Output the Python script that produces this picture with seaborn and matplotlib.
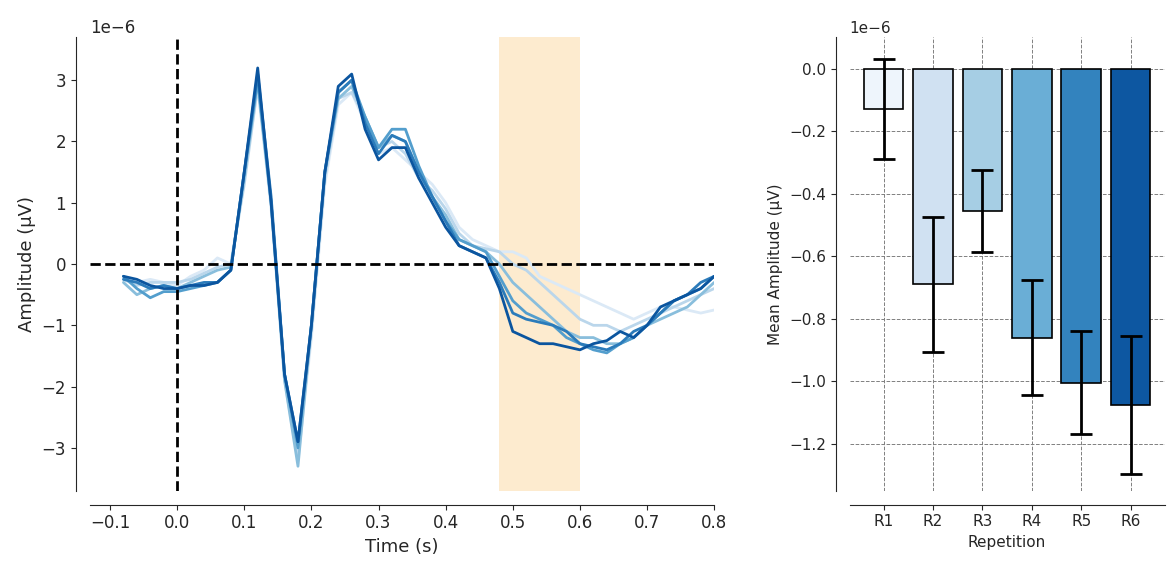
import numpy as np
import pandas as pd
import seaborn as sns
import matplotlib
matplotlib.use('Agg')
from matplotlib import pyplot as plt

times = [-0.08, -0.06, -0.04, -0.02, 0.0, 0.02, 0.04, 0.06, 0.08, 0.10, 0.12, 0.14, 0.16, 0.18,
         0.20, 0.22, 0.24, 0.26, 0.28, 0.30, 0.32, 0.34, 0.36, 0.38, 0.40, 0.42, 0.44, 0.46,
         0.48, 0.50, 0.52, 0.54, 0.56, 0.58, 0.60, 0.62, 0.64, 0.66, 0.68, 0.70, 0.72, 0.74,
         0.76, 0.78, 0.80]
# amplitudes in microvolts, one list per repetition
r1 = [-0.2, -0.3, -0.25, -0.3, -0.35, -0.2, -0.1, 0.1, 0.0, 1.4, 2.9, 0.9, -1.9, -3.2, -1.2, 1.3, 2.6, 2.8,
      2.3, 1.8, 1.9, 1.7, 1.5, 1.3, 1.0, 0.6, 0.4, 0.3, 0.2, 0.2, 0.1, -0.2, -0.3, -0.4, -0.5, -0.6,
      -0.7, -0.8, -0.9, -0.8, -0.7, -0.7, -0.75, -0.8, -0.75]
r2 = [-0.25, -0.35, -0.3, -0.3, -0.3, -0.25, -0.15, -0.05, 0.0, 1.3, 2.9, 1.0, -1.8, -3.1, -1.1, 1.4, 2.7, 2.8,
      2.4, 1.9, 2.0, 1.8, 1.4, 1.2, 0.9, 0.5, 0.3, 0.25, 0.2, 0.0, -0.1, -0.3, -0.5, -0.7, -0.9, -1.0,
      -1.0, -1.1, -1.0, -0.9, -0.8, -0.7, -0.6, -0.5, -0.4]
r3 = [-0.3, -0.5, -0.4, -0.35, -0.4, -0.3, -0.2, -0.1, -0.05, 1.4, 3.0, 1.0, -1.9, -3.3, -1.0, 1.5, 2.7, 2.9,
      2.4, 1.9, 2.1, 2.0, 1.5, 1.1, 0.8, 0.4, 0.3, 0.2, 0.0, -0.3, -0.5, -0.7, -0.9, -1.1, -1.2, -1.2,
      -1.3, -1.3, -1.2, -1.0, -0.9, -0.8, -0.7, -0.5, -0.3]
r4 = [-0.2, -0.4, -0.55, -0.45, -0.45, -0.4, -0.35, -0.3, -0.1, 1.5, 3.0, 1.0, -1.8, -3.0, -1.0, 1.5, 2.8, 3.0,
      2.4, 1.9, 2.2, 2.2, 1.6, 1.1, 0.7, 0.4, 0.3, 0.2, -0.2, -0.6, -0.8, -0.9, -1.0, -1.2, -1.3, -1.4,
      -1.45, -1.3, -1.2, -1.0, -0.8, -0.6, -0.5, -0.4, -0.2]
r5 = [-0.25, -0.3, -0.4, -0.35, -0.4, -0.35, -0.3, -0.3, -0.1, 1.5, 3.1, 1.1, -1.8, -2.9, -1.0, 1.5, 2.8, 3.0,
      2.3, 1.8, 2.1, 2.0, 1.5, 1.1, 0.7, 0.3, 0.2, 0.1, -0.3, -0.8, -0.9, -0.95, -1.0, -1.1, -1.3, -1.35,
      -1.4, -1.3, -1.1, -1.0, -0.8, -0.6, -0.5, -0.3, -0.2]
r6 = [-0.2, -0.25, -0.35, -0.4, -0.4, -0.35, -0.35, -0.3, -0.1, 1.5, 3.2, 1.0, -1.8, -2.9, -1.0, 1.5, 2.9, 3.1,
      2.2, 1.7, 1.9, 1.9, 1.4, 1.0, 0.6, 0.3, 0.2, 0.1, -0.4, -1.1, -1.2, -1.3, -1.3, -1.35, -1.4, -1.3,
      -1.25, -1.1, -1.2, -1.0, -0.7, -0.6, -0.5, -0.4, -0.2]

reps = ['R1', 'R2', 'R3', 'R4', 'R5', 'R6']
mean_amp = [-0.13, -0.69, -0.455, -0.86, -1.005, -1.075]
err_amp = [0.16, 0.215, 0.13, 0.185, 0.165, 0.22]

sns.set_style('ticks')
fig = plt.figure(figsize=(11.67, 5.74), dpi=100)
ax1 = fig.add_axes([0.077, 0.145, 0.535, 0.79])
ax2 = fig.add_axes([0.728, 0.145, 0.27, 0.79])

colors = sns.color_palette('Blues', 6)
rows = []
for name, vals in zip(reps, [r1, r2, r3, r4, r5, r6]):
    for t, v in zip(times, vals):
        rows.append({'time': t, 'amp': v * 1e-6, 'rep': name})
df = pd.DataFrame(rows)

ax1.axvspan(0.48, 0.6, color='#fde6c4', alpha=0.8, lw=0)
sns.lineplot(data=df, x='time', y='amp', hue='rep', palette=colors, lw=2, legend=False, ax=ax1)
ax1.axhline(0, color='black', ls='--', lw=2)
ax1.axvline(0, color='black', ls='--', lw=2)
ax1.set_xlim(-0.13, 0.8)
ax1.set_ylim(-3.7e-6, 3.7e-6)
ax1.set_xticks(np.arange(-0.1, 0.81, 0.1))
ax1.set_xlabel('Time (s)', fontsize=13)
ax1.set_ylabel('Amplitude (µV)', fontsize=13)
ax1.tick_params(labelsize=12)
ax1.yaxis.get_offset_text().set_fontsize(12)
sns.despine(ax=ax1, offset=10, trim=False)

bdf = pd.DataFrame({'rep': reps, 'amp': np.array(mean_amp) * 1e-6})
bar_colors = sns.color_palette('Blues', 7)[:1] + sns.color_palette('Blues', 7)[1:6]
bar_colors = [plt.cm.Blues(v) for v in [0.05, 0.2, 0.35, 0.5, 0.68, 0.85]]
sns.barplot(data=bdf, x='rep', y='amp', hue='rep', palette=bar_colors, saturation=1,
            edgecolor='black', linewidth=1.2, legend=False, ax=ax2, zorder=2)
ax2.errorbar(range(6), np.array(mean_amp) * 1e-6, yerr=np.array(err_amp) * 1e-6,
             fmt='none', ecolor='black', elinewidth=2, capsize=8, capthick=2, zorder=3)
ax2.set_ylim(-1.35e-6, 0.1e-6)
ax2.set_yticks(np.arange(-1.2e-6, 0.01e-6, 0.2e-6))
ax2.grid(True, ls='--', color='gray', lw=0.7, zorder=0)
ax2.set_axisbelow(True)
ax2.set_xlabel('Repetition', fontsize=11)
ax2.set_ylabel('Mean Amplitude (µV)', fontsize=11)
ax2.tick_params(labelsize=11)
ax2.yaxis.get_offset_text().set_fontsize(11)
sns.despine(ax=ax2, offset=10)

fig.savefig('out.png', dpi=100)
